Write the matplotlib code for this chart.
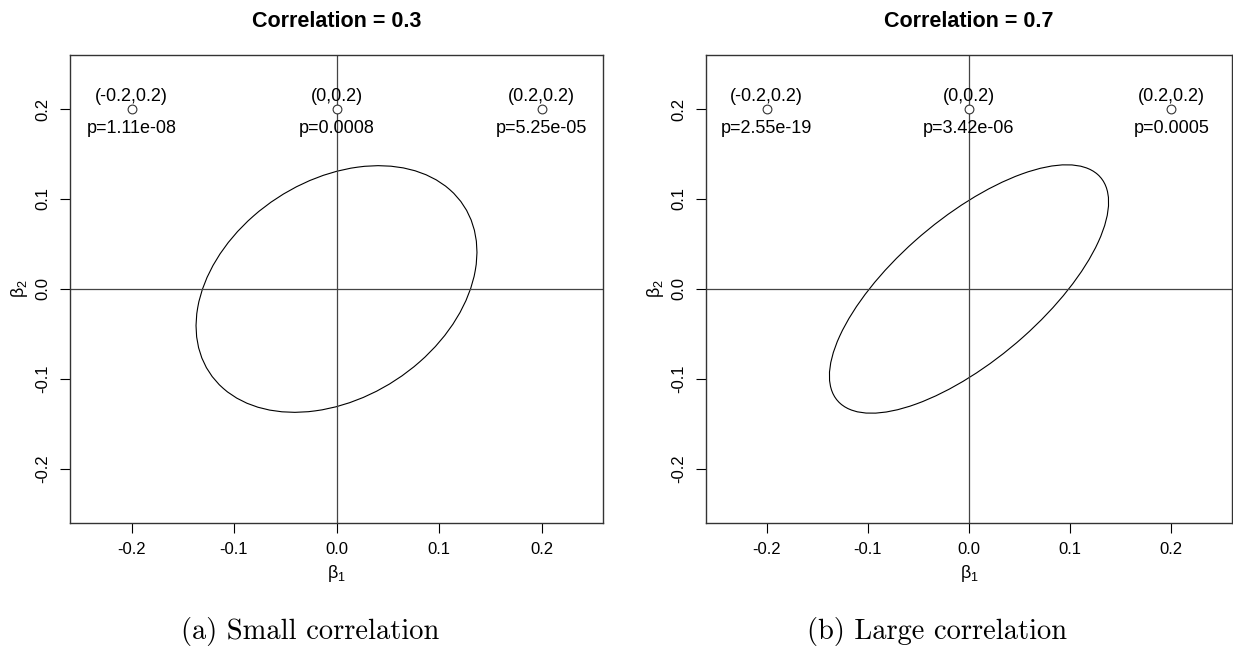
import numpy as np
import matplotlib
matplotlib.use("Agg")
import matplotlib.pyplot as plt
from matplotlib.patches import Ellipse

plt.rcParams["font.family"] = ["Liberation Sans", "DejaVu Sans"]
plt.rcParams["mathtext.fontset"] = "custom"
plt.rcParams["mathtext.rm"] = "Liberation Sans"
plt.rcParams["mathtext.it"] = "Liberation Sans"

# data
correlations = [0.3, 0.7]
radii = [0.137, 0.138]          # max extent of confidence region along each beta
captions = ["(a) Small correlation", "(b) Large correlation"]
point_x = [-0.2, 0.0, 0.2]
point_y = [0.2, 0.2, 0.2]
point_labels = ["(-0.2,0.2)", "(0,0.2)", "(0.2,0.2)"]
p_values = [
    ["p=1.11e-08", "p=0.0008", "p=5.25e-05"],
    ["p=2.55e-19", "p=3.42e-06", "p=0.0005"],
]
ticks = [-0.2, -0.1, 0.0, 0.1, 0.2]
tick_labels = ["-0.2", "-0.1", "0.0", "0.1", "0.2"]

fig = plt.figure(figsize=(12.33, 6.48), dpi=100)
axes_pos = [
    [70 / 1233, 1 - 523 / 648, 533 / 1233, 468 / 648],
    [706 / 1233, 1 - 523 / 648, 526 / 1233, 468 / 648],
]
caption_x = [310 / 1233, 937 / 1233]

for i, rho in enumerate(correlations):
    ax = fig.add_axes(axes_pos[i])
    ax.set_xlim(-0.26, 0.26)
    ax.set_ylim(-0.26, 0.26)

    r = radii[i]
    ell = Ellipse((0, 0), width=2 * r * np.sqrt(1 + rho),
                  height=2 * r * np.sqrt(1 - rho), angle=45,
                  fill=False, edgecolor="black", lw=0.8)
    ax.add_patch(ell)

    ax.axhline(0, color="#444444", lw=0.9)
    ax.axvline(0, color="#444444", lw=0.9)

    ax.scatter(point_x, point_y, s=40, facecolors="white",
               edgecolors="#333333", linewidths=0.8, zorder=3)
    for j in range(len(point_x)):
        ax.text(point_x[j], point_y[j] + 0.0135, point_labels[j],
                ha="center", va="center", fontsize=13)
        ax.text(point_x[j], point_y[j] - 0.022, p_values[i][j],
                ha="center", va="center", fontsize=13)

    ax.set_xticks(ticks)
    ax.set_xticklabels(tick_labels, fontsize=12)
    ax.set_yticks(ticks)
    ax.set_yticklabels(tick_labels, fontsize=12, rotation=90, va="center")
    ax.tick_params(direction="out", length=7, width=0.8, pad=7, colors="black")
    for sp in ax.spines.values():
        sp.set_color("#333333")
        sp.set_linewidth(1.0)

    ax.set_xlabel(r"$\beta_1$", fontsize=13, labelpad=4)
    ax.set_ylabel(r"$\beta_2$", fontsize=13, labelpad=4)
    ax.set_title(f"Correlation = {rho}", fontsize=15.5, fontweight="bold", pad=20)

    fig.text(caption_x[i], 1 - 632 / 648, captions[i],
             ha="center", va="center", fontsize=20.5, family="cmr10")

fig.savefig("out.png", dpi=100)
print("Saved out.png")
